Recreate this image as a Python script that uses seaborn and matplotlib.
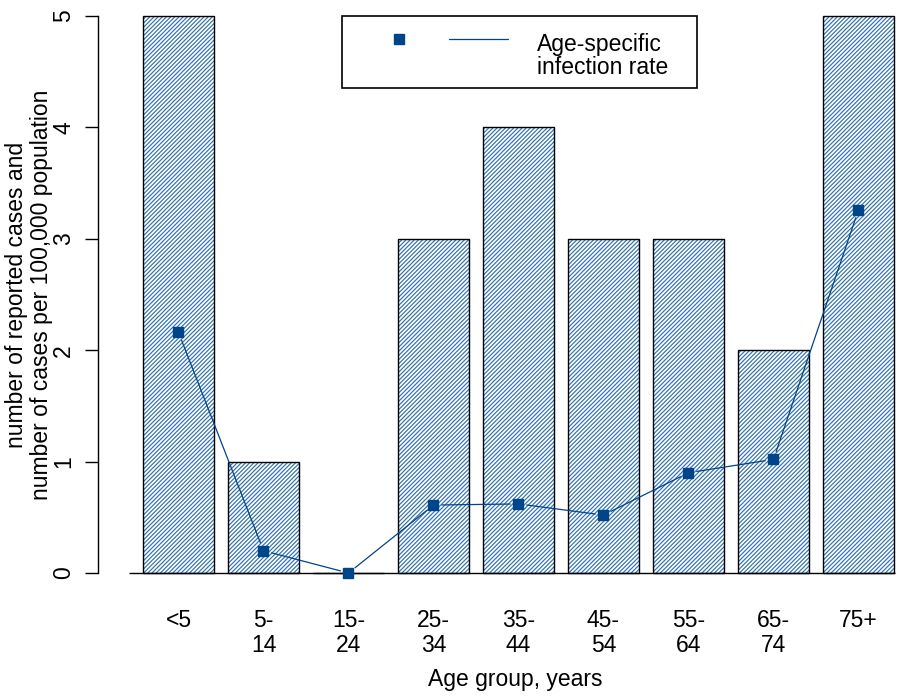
import matplotlib
matplotlib.use("Agg")
import numpy as np
import pandas as pd
import matplotlib.pyplot as plt
import seaborn as sns
from matplotlib.patches import Rectangle
from matplotlib.lines import Line2D

# ---- data ----
age_groups = ["<5", "5-\n14", "15-\n24", "25-\n34", "35-\n44", "45-\n54", "55-\n64", "65-\n74", "75+"]
reported_cases = [5, 1, 0, 3, 4, 3, 3, 2, 5]
infection_rate = [2.16, 0.20, 0.00, 0.61, 0.62, 0.52, 0.90, 1.02, 3.26]
y_ticks = [0, 1, 2, 3, 4, 5]

# ---- style ----
sns.set_theme(style="white")
plt.rcParams['font.family'] = ['Liberation Sans', 'DejaVu Sans']
plt.rcParams['hatch.linewidth'] = 0.85
FS = 16.5
NAVY = "#00448a"
HATCH_BLUE = "#3070b0"

W, H = 897, 696
fig = plt.figure(figsize=(W / 100, H / 100), dpi=100)
fig.patch.set_facecolor("white")
ax = fig.add_axes([98 / W, (H - 573) / H, (897 - 98) / W, (573 - 16) / H])

df = pd.DataFrame({"age": age_groups, "cases": reported_cases, "rate": infection_rate})
bar_width = 71 / 85

sns.barplot(data=df, x="age", y="cases", color="white", saturation=1,
            hatch="////////", edgecolor=HATCH_BLUE, linewidth=0,
            width=bar_width, ax=ax, zorder=1, errorbar=None)
for p in list(ax.patches):
    p.set_clip_on(False)
    ax.add_patch(Rectangle(p.get_xy(), p.get_width(), p.get_height(),
                           fill=False, edgecolor="black", lw=1.0,
                           clip_on=False, zorder=2))

pos = np.arange(len(age_groups))
ax.set_xlim(-0.947, 8.453)
ax.set_ylim(0, 5)

# baseline
ax.hlines(0, -0.582, 8.43, color="black", lw=1.0, clip_on=False, zorder=3)

# rate line (type "b": segments with gaps at points)
for i in range(len(pos) - 1):
    ax.annotate("", xy=(pos[i + 1], infection_rate[i + 1]), xytext=(pos[i], infection_rate[i]),
                arrowprops=dict(arrowstyle="-", color=NAVY, lw=0.9, shrinkA=6, shrinkB=6),
                annotation_clip=False, zorder=4)
ax.plot(pos, infection_rate, ls="none", marker="s", ms=7.9, color=NAVY,
        clip_on=False, zorder=5)

# axes styling
for s in ["top", "right", "bottom"]:
    ax.spines[s].set_visible(False)
ax.spines["left"].set_color("black")
ax.spines["left"].set_linewidth(1.0)
ax.set_yticks(y_ticks)
ax.set_yticklabels([str(v) for v in y_ticks])
ax.tick_params(axis="y", length=9.4, width=1.0, color="black", pad=7,
               labelsize=FS, labelcolor="black", left=True, labelrotation=90)
for lab in ax.get_yticklabels():
    lab.set_va("center")
ax.set_xticks(pos)
ax.set_xticklabels(age_groups)
ax.tick_params(axis="x", length=0, pad=26, labelsize=FS, labelcolor="black")
for lab in ax.get_xticklabels():
    lab.set_linespacing(1.1)
    lab.set_va("top")

ax.set_ylabel("number of reported cases and\nnumber of cases per 100,000 population",
              fontsize=FS, color="black", linespacing=1.1)
ax.yaxis.set_label_coords((53 - 98) / 799, 0.5)
ax.set_xlabel("Age group, years", fontsize=FS, color="black", va="top")
ax.xaxis.set_label_coords((515.5 - 98) / 799, -(668 - 573) / 557)
ax.grid(False)

# legend (drawn manually, R-style)
def fx(px):
    return px / W

def fy(py):
    return 1 - py / H

fig.add_artist(Rectangle((fx(342), fy(88)), fx(697) - fx(342), fy(16) - fy(88),
                         transform=fig.transFigure, fill=False, edgecolor="black", lw=1.2))
fig.add_artist(Line2D([fx(399)], [fy(39)], marker="s", ms=7.9, color=NAVY, ls="none",
                      transform=fig.transFigure))
fig.add_artist(Line2D([fx(449), fx(508)], [fy(39), fy(39)], color=NAVY, lw=0.9,
                      transform=fig.transFigure))
fig.text(fx(537), fy(56), "Age-specific\ninfection rate", ha="left", va="center",
         fontsize=FS, color="black", linespacing=1.0)

fig.savefig("out.png", dpi=100)
